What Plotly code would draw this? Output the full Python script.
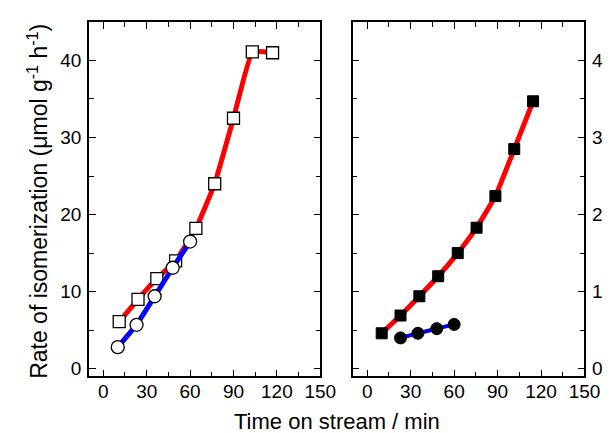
import plotly.graph_objects as go

# Left panel data
t_red_left = [11, 24, 37, 50, 64, 77, 90, 103, 117]
r_red_left = [6.1, 9.0, 11.7, 14.0, 18.2, 24.0, 32.5, 41.1, 41.0]
t_blue_left = [10, 23, 35.5, 48, 60]
r_blue_left = [2.8, 5.7, 9.4, 13.1, 16.5]

# Right panel data
t_red_right = [10, 23, 36, 49, 62.5, 75.5, 88.5, 101.5, 114.5]
r_red_right = [0.46, 0.69, 0.94, 1.20, 1.50, 1.83, 2.24, 2.85, 3.47]
t_blue_right = [23, 35, 48, 60]
r_blue_right = [0.40, 0.46, 0.52, 0.575]

x_ticks = [0, 30, 60, 90, 120, 150]
y_ticks_left = [0, 10, 20, 30, 40]
y_ticks_right = [0, 1, 2, 3, 4]

FONT = "Liberation Sans, Arial, sans-serif"

fig = go.Figure()

fig.add_trace(go.Scatter(
    x=t_red_left, y=r_red_left, mode="lines+markers",
    line=dict(color="#ff0000", width=5, shape="spline", smoothing=0.3),
    marker=dict(symbol="square", size=12, color="white", line=dict(color="black", width=1.3)),
    xaxis="x", yaxis="y", showlegend=False))
fig.add_trace(go.Scatter(
    x=t_blue_left, y=r_blue_left, mode="lines+markers",
    line=dict(color="#0000ff", width=5, shape="spline", smoothing=0.3),
    marker=dict(symbol="circle", size=13, color="white", line=dict(color="black", width=1.3)),
    xaxis="x", yaxis="y", showlegend=False))

fig.add_trace(go.Scatter(
    x=t_red_right, y=r_red_right, mode="lines+markers",
    line=dict(color="#ff0000", width=5, shape="spline", smoothing=0.3),
    marker=dict(symbol="square", size=11, color="black", line=dict(color="black", width=1)),
    xaxis="x2", yaxis="y2", showlegend=False))
fig.add_trace(go.Scatter(
    x=t_blue_right, y=r_blue_right, mode="lines+markers",
    line=dict(color="#0000ff", width=4, shape="spline", smoothing=0.3),
    marker=dict(symbol="circle", size=12, color="black", line=dict(color="black", width=1)),
    xaxis="x2", yaxis="y2", showlegend=False))

common_x = dict(
    range=[-10, 150], tickvals=x_ticks, ticktext=[str(v) for v in x_ticks],
    ticks="inside", ticklen=7, tickwidth=1.3, tickcolor="black",
    showline=True, linecolor="black", linewidth=1.5, mirror="ticks",
    showgrid=False, zeroline=False, ticklabelstandoff=-3,
    minor=dict(dtick=15, tick0=0, ticks="inside", ticklen=5, tickwidth=1.3, tickcolor="black", showgrid=False),
    tickfont=dict(family=FONT, size=19, color="black"),
)
common_y = dict(
    ticks="inside", ticklen=7, tickwidth=1.3, tickcolor="black",
    showline=True, linecolor="black", linewidth=1.5, mirror="ticks",
    showgrid=False, zeroline=False, ticklabelstandoff=2,
    tickfont=dict(family=FONT, size=19, color="black"),
)

fig.update_layout(
    width=611, height=433,
    margin=dict(l=0, r=0, t=0, b=0),
    paper_bgcolor="white", plot_bgcolor="white",
    xaxis=dict(domain=[83/611, 320.7/611], anchor="y", **common_x),
    xaxis2=dict(domain=[354/611, 592/611], anchor="y2", **common_x),
    yaxis=dict(domain=[1-371/433, 1-14/433], anchor="x", range=[-1, 45],
               tickvals=y_ticks_left, ticktext=[str(v) for v in y_ticks_left],
               minor=dict(dtick=5, tick0=0, ticks="inside", ticklen=5, tickwidth=1.3, tickcolor="black", showgrid=False),
               **common_y),
    yaxis2=dict(domain=[1-371/433, 1-14/433], anchor="x2", range=[-0.1, 4.5], side="right",
                tickvals=y_ticks_right, ticktext=[str(v) for v in y_ticks_right],
                minor=dict(dtick=0.5, tick0=0, ticks="inside", ticklen=5, tickwidth=1.3, tickcolor="black", showgrid=False),
                **common_y),
    annotations=[
        dict(text="Rate of isomerization (μmol g<sup>-1</sup> h<sup>-1</sup>)",
             x=30/611, y=1-195/433, xref="paper", yref="paper", textangle=-90,
             showarrow=False, xanchor="center", yanchor="middle",
             font=dict(family=FONT, size=23, color="black")),
        dict(text="Time on stream / min",
             x=338/611, y=1-416/433, xref="paper", yref="paper",
             showarrow=False, xanchor="center", yanchor="middle",
             font=dict(family=FONT, size=22, color="black")),
    ],
)

fig.write_html("out.html")
